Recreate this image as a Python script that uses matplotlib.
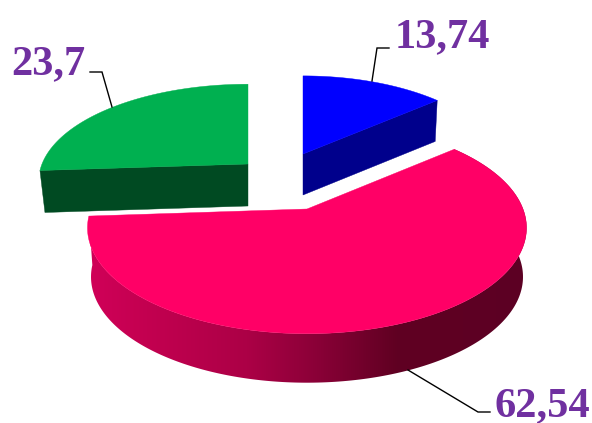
import numpy as np
import matplotlib
matplotlib.use('Agg')
import matplotlib.pyplot as plt
from matplotlib.patches import Polygon

# Slices, clockwise from 12 o'clock
labels = ['13,74', '62,54', '23,7']
values = [13.74, 62.54, 23.7]

top_colors = ['#0000FF', '#FF0066', '#00B050']
face_colors = ['#00008C', None, '#004A22']

# apex x, apex y, x radius, y radius, depth, wall convergence for each exploded slice
slice_geom = [
    (303, 154, 197, 92, 41, 0.985),
    (307, 209, 216, 102.5, 49, 0.984),
    (248, 164, 206, 94, 42, 0.976),
]
persp = 0.178
skew = np.radians(8.6)

# shading along the pink wall, by screen x
shade_x = [90, 147, 247, 313, 397, 530]
shade_r = [208, 195, 172, 140, 96, 92]
shade_b = [88, 80, 70, 56, 34, 36]

label_pos = [(395, 47), (494, 416), (11, 74)]
leaders = [
    ([372, 377, 389], [81, 48, 48]),
    ([408, 478, 490], [370, 412, 412]),
    ([112, 102, 90], [107, 72, 72]),
]


def project(theta, geom):
    x0, y0, a, b = geom[:4]
    # left half of the disc is turned a little towards the viewer
    theta = np.where(theta > np.pi, theta - skew * np.sin(theta - np.pi), theta)
    u, v = np.sin(theta), np.cos(theta)
    w = 1 + persp * v
    return x0 + a * u / w, y0 - b * v / w


def lower(x, y, geom):
    return geom[0] + (x - geom[0]) * geom[5], y + geom[4]


fig = plt.figure(figsize=(5.92, 4.23), dpi=100)
ax = fig.add_axes([0, 0, 1, 1])
ax.axis('off')

edges = np.concatenate([[0], np.cumsum(values)]) / sum(values) * 2 * np.pi

for i in [0, 2, 1]:
    geom = slice_geom[i]
    th = np.linspace(edges[i], edges[i + 1], 240)
    x, y = project(th, geom)
    xl, yl = lower(x, y, geom)
    ax_x, ax_y = geom[0], geom[1]
    ax_xl, ax_yl = lower(ax_x, ax_y, geom)

    if i == 1:
        # outer wall with its left to right shading
        xs = np.arange(shade_x[0], shade_x[-1] + 1)
        grad = np.zeros((1, len(xs), 3))
        grad[0, :, 0] = np.interp(xs, shade_x, shade_r) / 255
        grad[0, :, 2] = np.interp(xs, shade_x, shade_b) / 255
        wall = Polygon(np.c_[np.r_[x, xl[::-1]], np.r_[y, yl[::-1]]],
                       closed=True, transform=ax.transData, fc='none', ec='none')
        ax.add_patch(wall)
        im = ax.imshow(grad, extent=[shade_x[0], shade_x[-1], 423, 0],
                       aspect='auto', zorder=1 + i, interpolation='bilinear')
        im.set_clip_path(wall)
    else:
        # cut face that looks at the viewer
        k = -1 if i == 0 else 0
        ax.fill([ax_x, x[k], xl[k], ax_xl], [ax_y, y[k], yl[k], ax_yl],
                color=face_colors[i], lw=0.3, zorder=1 + i)

    ax.fill(np.r_[ax_x, x], np.r_[ax_y, y], color=top_colors[i], lw=0.3,
            zorder=2 + i)

for i in range(len(values)):
    ax.plot(leaders[i][0], leaders[i][1], color='black', lw=1.0, zorder=6,
            solid_joinstyle='miter')
    ax.text(label_pos[i][0], label_pos[i][1], labels[i], color='#7030A0',
            family='Liberation Serif', weight='bold', fontsize=30.5,
            ha='left', va='baseline', zorder=7)

ax.set_xlim(0, 592)
ax.set_ylim(423, 0)
fig.savefig('out.png', dpi=100)
